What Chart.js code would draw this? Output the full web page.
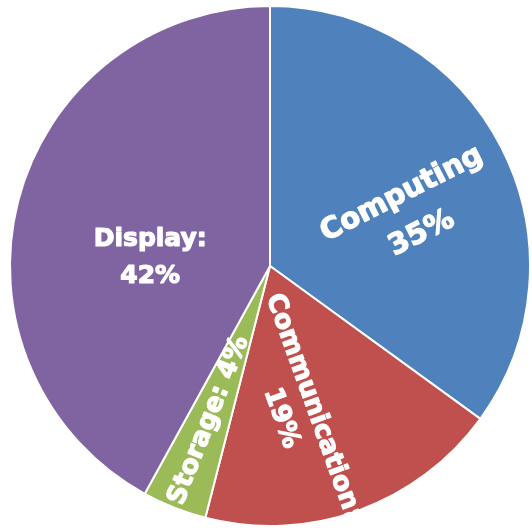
<!DOCTYPE html>
<html>
<head>
<meta charset="utf-8">
<script src="https://cdn.jsdelivr.net/npm/chart.js@4.4.1/dist/chart.umd.min.js"></script>
<style>
  html, body { margin: 0; padding: 0; background: #fff; }
  canvas { display: block; }
</style>
</head>
<body>
<canvas id="pieChart" width="532" height="532"></canvas>
<script>
// share of each segment, percent
var segments = ['Computing', 'Communication', 'Storage', 'Display'];
var shares = [35, 19, 4, 42];
var colours = ['#4f81bd', '#c0504d', '#9bbb59', '#8064a2'];
// text between name and percentage (newline = second line)
var joiners = ['\n', ':\n', ': ', ':\n'];

// where each slice label sits: distance along the slice middle, shift in the
// text frame, how it turns (out = reads outward, in = reads inward, flat)
var labelPlace = [
    { along: 150, dx: 0, dy: 18, turn: 'out', size: 29, lh: 44 },
    { along: 147, dx: 0, dy: 24, turn: 'out', size: 26, lh: 34 },
    { along: 166, dx: 0, dy: 0, turn: 'in', size: 26, lh: 30 },
    { along: 118, dx: -5.5, dy: 21.5, turn: 'flat', size: 25, lh: 37 }
];

var sliceLabels = {
    id: 'sliceLabels',
    afterDatasetsDraw: function(chart) {
        var ctx = chart.ctx;
        var meta = chart.getDatasetMeta(0);
        meta.data.forEach(function(arc, i) {
            var p = arc.getProps(['x', 'y', 'startAngle', 'endAngle'], true);
            var mid = (p.startAngle + p.endAngle) / 2;
            var pl = labelPlace[i];
            var rot = 0;
            if (pl.turn === 'out') rot = mid;
            if (pl.turn === 'in') rot = mid + Math.PI;
            var cx = p.x + Math.cos(mid) * pl.along;
            var cy = p.y + Math.sin(mid) * pl.along;
            var lines = (segments[i] + joiners[i] + shares[i] + '%').split('\n');
            ctx.save();
            ctx.translate(cx, cy);
            ctx.rotate(rot);
            ctx.translate(pl.dx, pl.dy);
            ctx.fillStyle = '#ffffff';
            ctx.strokeStyle = '#ffffff';
            ctx.lineWidth = 1.2;
            ctx.lineJoin = 'round';
            ctx.font = 'bold ' + pl.size + 'px "DejaVu Sans"';
            ctx.textAlign = 'center';
            ctx.textBaseline = 'middle';
            lines.forEach(function(t, k) {
                var ty = (k - (lines.length - 1) / 2) * pl.lh;
                ctx.strokeText(t, 0, ty);
                ctx.fillText(t, 0, ty);
            });
            ctx.restore();
        });
    }
};

new Chart('pieChart', {
    type: 'pie',
    data: {
        labels: segments,
        datasets: [{
            data: shares,
            backgroundColor: colours,
            borderColor: '#ffffff',
            borderWidth: 2
        }]
    },
    options: {
        responsive: false,
        animation: false,
        layout: { padding: { left: 9, right: 1, top: 5, bottom: 5 } },
        plugins: {
            legend: { display: false },
            tooltip: { enabled: false }
        }
    },
    plugins: [sliceLabels]
});
</script>
</body>
</html>
